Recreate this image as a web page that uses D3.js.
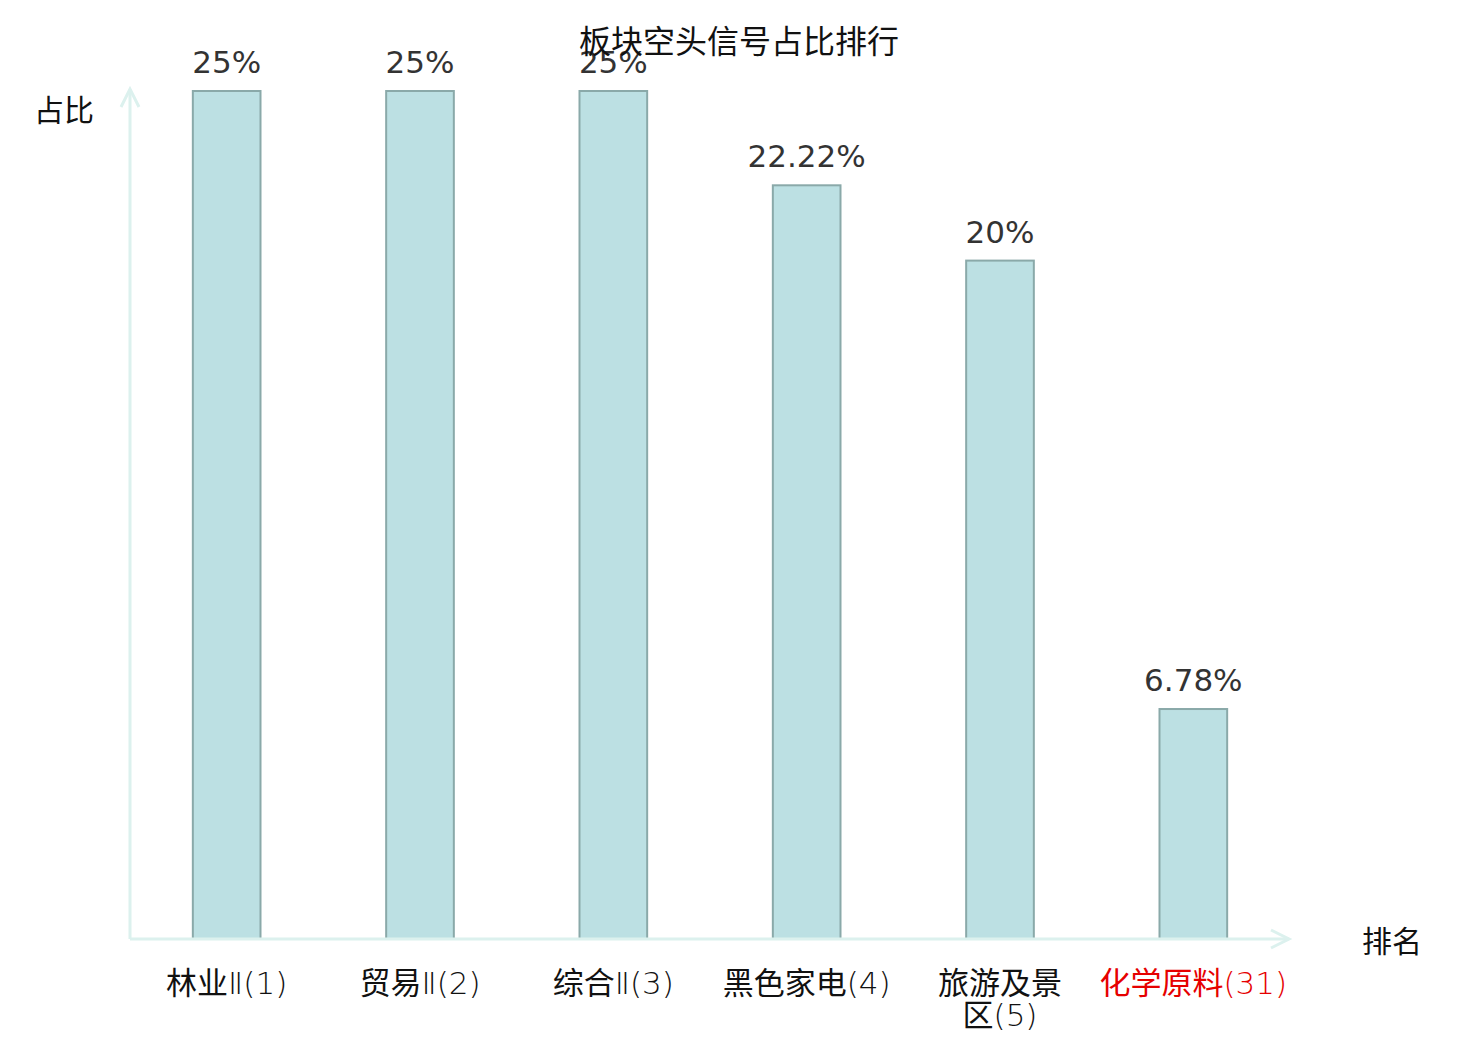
<!DOCTYPE html>
<html>
<head>
<meta charset="utf-8">
<script src="https://cdn.jsdelivr.net/npm/d3@7"></script>
<style>
  body { margin: 0; background: #fff; }
</style>
</head>
<body>
<div id="chart"></div>
<script>
// chart data
const categories = ["林业Ⅱ(1)", "贸易Ⅱ(2)", "综合Ⅱ(3)", "黑色家电(4)", "旅游及景区(5)", "化学原料(31)"];
const values = [25, 25, 25, 22.22, 20, 6.78];
const highlight = ["化学原料(31)"];

const data = categories.map((c, i) => ({name: c, value: values[i]}));

const width = 1480, height = 1040;
const margins = {top: 91, right: 190, bottom: 101, left: 130};
const cjk = '"Noto Sans CJK SC", "Noto Sans", sans-serif';
const latin = '"DejaVu Sans", sans-serif';

const svg = d3.select("#chart")
  .append("svg")
    .attr("width", width)
    .attr("height", height)
    .attr("viewBox", [0, 0, width, height]);

/* scales */
const xScale = d3.scaleBand()
  .domain(categories)
  .range([margins.left, width - margins.right])
  .paddingInner(0.65)
  .paddingOuter(0.325);

const yScale = d3.scaleLinear()
  .domain([0, d3.max(values)])
  .range([height - margins.bottom, margins.top]);

const axisColor = "#dcf1ee";
const x0 = margins.left, y0 = height - margins.bottom;

/* bars */
svg.append("g")
  .selectAll("rect")
  .data(data)
  .join("rect")
    .attr("x", d => xScale(d.name))
    .attr("y", d => yScale(d.value))
    .attr("width", xScale.bandwidth())
    .attr("height", d => yScale(0) - yScale(d.value))
    .attr("fill", "#bce0e3")
    .attr("stroke", "#8aa9a9")
    .attr("stroke-width", 2);

/* value labels */
svg.append("g")
  .selectAll("text")
  .data(data)
  .join("text")
    .attr("x", d => xScale(d.name) + xScale.bandwidth() / 2)
    .attr("y", d => yScale(d.value) - 18)
    .attr("text-anchor", "middle")
    .style("font-family", latin)
    .style("font-size", "31px")
    .style("fill", "#333")
    .text(d => d.value + "%");

/* axes with arrows */
const axes = svg.append("g")
  .attr("fill", "none")
  .attr("stroke", axisColor)
  .attr("stroke-width", 3);

axes.append("line")
  .attr("x1", x0).attr("y1", y0)
  .attr("x2", x0).attr("y2", 89);
axes.append("path")
  .attr("d", `M${x0 - 9},${107} L${x0},${89} L${x0 + 9},${107}`);

axes.append("line")
  .attr("x1", x0).attr("y1", y0)
  .attr("x2", 1289).attr("y2", y0);
axes.append("path")
  .attr("d", `M${1271},${y0 - 9} L${1289},${y0} L${1271},${y0 + 9}`);

/* category labels: CJK in Noto, the rest in a thin latin face,
   wrapped when wider than the band step */
const isCJK = ch => /[\u3400-\u9fff]/.test(ch);

const addRuns = (parent, str, x, dy) => {
  let first = true;
  const runs = [];
  for (const ch of str) {
    const k = isCJK(ch);
    if (runs.length && runs[runs.length - 1].k === k) runs[runs.length - 1].s += ch;
    else runs.push({k, s: ch});
  }
  runs.forEach(r => {
    const t = parent.append("tspan").text(r.s)
      .style("font-family", r.k ? cjk : latin)
      .style("font-weight", r.k ? 400 : 200);
    if (first) { t.attr("x", x).attr("dy", dy); first = false; }
  });
};

// each CJK char carries the latin run after it, so "区(5)" stays together
const tokenize = str => {
  const toks = [];
  for (const ch of str) {
    if (isCJK(ch) || !toks.length) toks.push(ch);
    else toks[toks.length - 1] += ch;
  }
  return toks;
};

const ticks = svg.append("g")
  .selectAll("text")
  .data(categories)
  .join("text")
    .attr("y", 994)
    .attr("text-anchor", "middle")
    .style("font-family", cjk)
    .style("font-size", "31px")
    .style("fill", d => highlight.includes(d) ? "#e60000" : "#111");

ticks.each(function(d) {
  const el = d3.select(this);
  const cx = xScale(d) + xScale.bandwidth() / 2;
  const maxW = xScale.step();
  const lines = [];
  let cur = "";
  for (const tok of tokenize(d)) {
    el.selectAll("tspan").remove();
    addRuns(el, cur + tok, cx, 0);
    if (cur && el.node().getComputedTextLength() > maxW) {
      lines.push(cur);
      cur = tok;
    } else {
      cur += tok;
    }
  }
  lines.push(cur);
  el.selectAll("tspan").remove();
  lines.forEach((ln, i) => addRuns(el, ln, cx, i === 0 ? 0 : 32));
});

/* axis names */
svg.append("text")
  .attr("x", 64).attr("y", 121)
  .attr("text-anchor", "middle")
  .style("font-family", cjk)
  .style("font-size", "30px")
  .style("fill", "#111")
  .text("占比");

svg.append("text")
  .attr("x", 1392).attr("y", 952)
  .attr("text-anchor", "middle")
  .style("font-family", cjk)
  .style("font-size", "30px")
  .style("fill", "#111")
  .text("排名");

/* title */
svg.append("text")
  .attr("x", 739).attr("y", 53)
  .attr("text-anchor", "middle")
  .style("font-family", cjk)
  .style("font-size", "32px")
  .style("fill", "#111")
  .text("板块空头信号占比排行");
</script>
</body>
</html>
